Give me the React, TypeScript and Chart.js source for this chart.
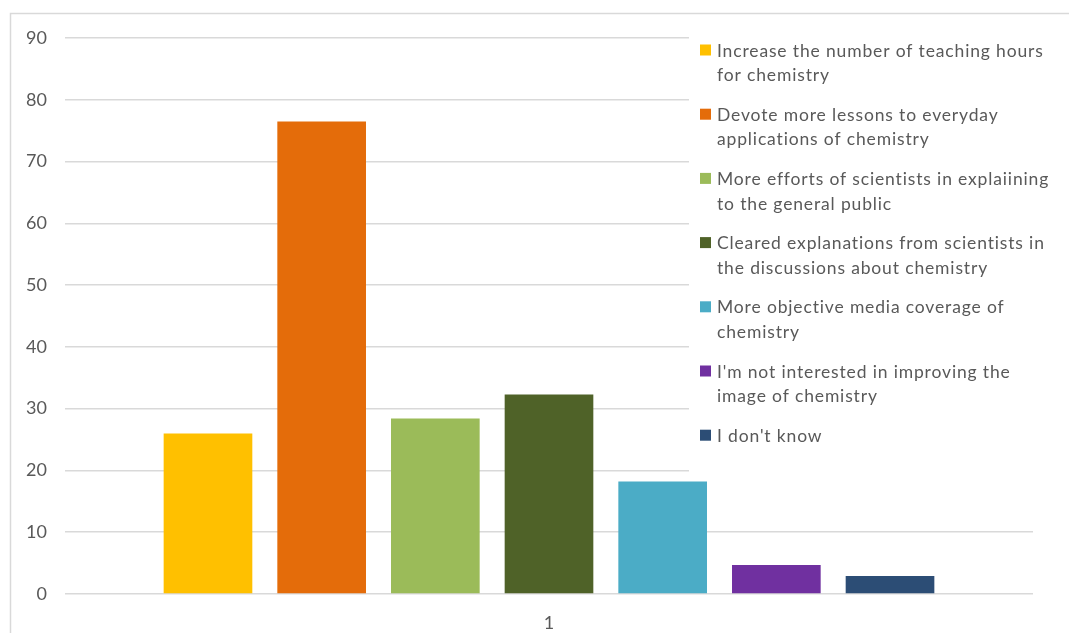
import { useEffect, useRef } from 'react';
import { Chart, registerables } from 'chart.js';

Chart.register(...registerables);

// Survey answers: one category, one bar per answer
const categories = ['1'];
const seriesLabels = [
  'Increase the number of teaching hours for chemistry',
  'Devote more lessons to everyday applications of chemistry',
  'More efforts of scientists in explaiining to the general public',
  'Cleared explanations from scientists in the discussions about chemistry',
  'More objective media coverage of chemistry',
  "I'm not interested in improving the image of chemistry",
  "I don't know",
];
const seriesValues = [26.0, 76.5, 28.4, 32.3, 18.2, 4.7, 2.9];
const seriesColors = ['#FFC000', '#E46C0A', '#9BBB59', '#4F6228', '#4BACC6', '#7030A0', '#2C4D75'];
const yMin = 0;
const yMax = 90;
const yStep = 10;

const FONT = 'Lato, "Open Sans", sans-serif';
const TEXT = '#595959';
const GRID = '#d9d9d9';
const LEGEND_SIZE = 17.5;
const TICK_SIZE = 18;

function wrapText(ctx: CanvasRenderingContext2D, text: string, maxWidth: number): string[] {
  const words = text.split(' ');
  const lines: string[] = [];
  let cur = '';
  for (const w of words) {
    const test = cur ? cur + ' ' + w : w;
    if (cur && ctx.measureText(test).width > maxWidth) {
      lines.push(cur);
      cur = w;
    } else {
      cur = test;
    }
  }
  if (cur) lines.push(cur);
  return lines;
}

// Outer frame around the chart
const framePlugin = {
  id: 'frame',
  beforeDraw(chart: any) {
    const { ctx } = chart;
    ctx.save();
    ctx.strokeStyle = GRID;
    ctx.lineWidth = 1.5;
    ctx.strokeRect(10.5, 13.5, 3000, 3000);
    ctx.restore();
  },
};

// Legend drawn on a white panel over the right part of the plot
const sideLegendPlugin = {
  id: 'sideLegend',
  beforeDatasetsDraw(chart: any) {
    const { ctx } = chart;
    ctx.save();
    ctx.fillStyle = '#ffffff';
    ctx.fillRect(689, 26, 380, 458);
    ctx.font = `${LEGEND_SIZE}px ${FONT}`;
    (ctx as any).letterSpacing = '0.85px';
    ctx.textBaseline = 'middle';
    ctx.textAlign = 'left';
    chart.data.datasets.forEach((ds: any, i: number) => {
      const y0 = 50 + i * 64.2;
      ctx.fillStyle = ds.backgroundColor;
      ctx.fillRect(700, y0 - 5.5, 11, 11);
      ctx.fillStyle = TEXT;
      const lines = wrapText(ctx, ds.label, 338);
      lines.forEach((ln, j) => ctx.fillText(ln, 717, y0 + 1 + j * 24.5));
    });
    ctx.restore();
  },
};

export default function App() {
  const ref = useRef<HTMLCanvasElement | null>(null);

  useEffect(() => {
    if (!ref.current) return;
    const chart = new Chart(ref.current, {
      type: 'bar',
      data: {
        labels: categories,
        datasets: seriesLabels.map((label, i) => ({
          label,
          data: [seriesValues[i]],
          backgroundColor: seriesColors[i],
          borderWidth: 0,
          categoryPercentage: 0.822,
          barPercentage: 0.78,
        })),
      },
      options: {
        responsive: false,
        animation: false,
        layout: { padding: { left: 0, right: 36, top: 38, bottom: 0 } },
        plugins: {
          legend: { display: false },
          tooltip: { enabled: false },
        },
        scales: {
          x: {
            grid: { display: false },
            border: { display: false },
            ticks: { color: TEXT, font: { family: FONT, size: TICK_SIZE }, padding: 10 },
            afterFit: (scale: any) => {
              scale.height = 39;
            },
          },
          y: {
            min: yMin,
            max: yMax,
            grid: { color: GRID, lineWidth: 1.5, drawTicks: false },
            border: { display: false },
            ticks: {
              stepSize: yStep,
              color: TEXT,
              font: { family: FONT, size: TICK_SIZE },
              padding: 18,
            },
            afterFit: (scale: any) => {
              scale.width = 65;
            },
          },
        },
      },
      plugins: [framePlugin, sideLegendPlugin],
    });
    return () => chart.destroy();
  }, []);

  return (
    <div style={{ position: 'absolute', left: 0, top: 0, width: 1069, height: 633, background: '#fff' }}>
      <canvas ref={ref} width={1069} height={633} style={{ display: 'block' }} />
    </div>
  );
}
